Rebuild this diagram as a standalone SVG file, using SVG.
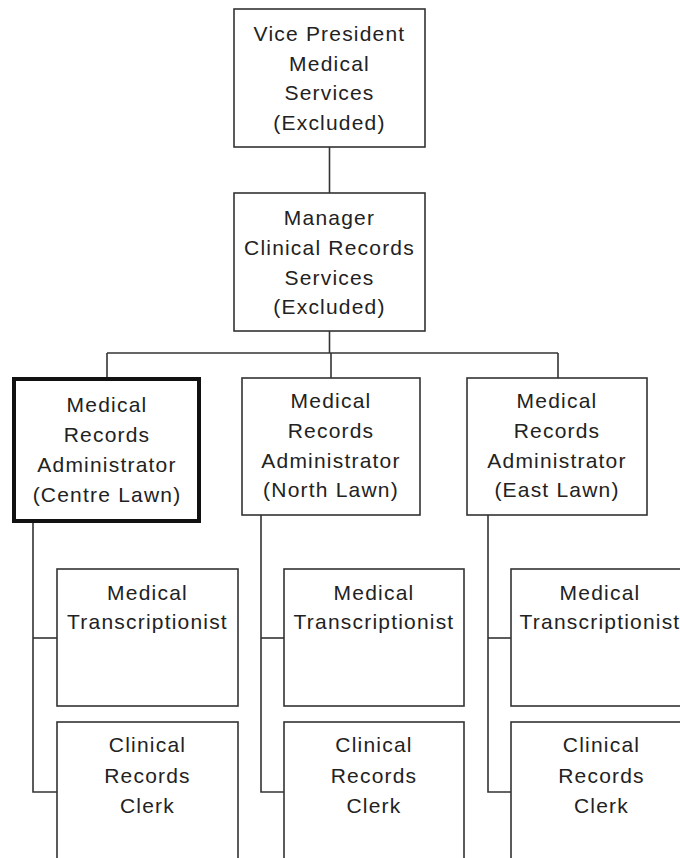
<svg xmlns="http://www.w3.org/2000/svg" width="680" height="858" viewBox="0 0 680 858">
<style>
.box{fill:#fff;stroke:#333;stroke-width:1.6}
.thick{fill:#fff;stroke:#111;stroke-width:4}
.ln{stroke:#333;stroke-width:1.6;fill:none}
text{font-family:"Liberation Sans",Arial,sans-serif;font-size:21px;fill:#222;text-anchor:middle;letter-spacing:1.2px}
</style>
<rect width="680" height="858" fill="#fff"/>
<g id="connectors">
<line class="ln" x1="329.5" y1="147" x2="329.5" y2="193"/>
<line class="ln" x1="329.5" y1="331" x2="329.5" y2="353"/>
<line class="ln" x1="107" y1="353" x2="558" y2="353"/>
<line class="ln" x1="107" y1="353" x2="107" y2="377"/>
<line class="ln" x1="331" y1="353" x2="331" y2="378"/>
<line class="ln" x1="558" y1="353" x2="558" y2="378"/>
<polyline class="ln" points="33,523 33,792 57,792"/>
<line class="ln" x1="33" y1="638" x2="57" y2="638"/>
<polyline class="ln" points="261,515 261,792 284,792"/>
<line class="ln" x1="261" y1="638" x2="284" y2="638"/>
<polyline class="ln" points="488,515 488,792 511,792"/>
<line class="ln" x1="488" y1="638" x2="511" y2="638"/>
</g>
<g id="vp">
<rect class="box" x="234" y="9" width="191" height="138"/>
<text x="329.5" y="41">Vice President</text>
<text x="329.5" y="71">Medical</text>
<text x="329.5" y="100">Services</text>
<text x="329.5" y="130">(Excluded)</text>
</g>
<g id="manager">
<rect class="box" x="234" y="193" width="191" height="138"/>
<text x="329.5" y="225">Manager</text>
<text x="329.5" y="255">Clinical Records</text>
<text x="329.5" y="285">Services</text>
<text x="329.5" y="314">(Excluded)</text>
</g>
<g id="admin-centre">
<rect class="thick" x="14" y="379" width="185" height="142"/>
<text x="107" y="412">Medical</text>
<text x="107" y="442">Records</text>
<text x="107" y="472">Administrator</text>
<text x="107" y="502">(Centre Lawn)</text>
</g>
<g id="admin-north">
<rect class="box" x="242" y="378" width="178" height="137"/>
<text x="331" y="408">Medical</text>
<text x="331" y="438">Records</text>
<text x="331" y="468">Administrator</text>
<text x="331" y="497">(North Lawn)</text>
</g>
<g id="admin-east">
<rect class="box" x="467" y="378" width="180" height="137"/>
<text x="557" y="408">Medical</text>
<text x="557" y="438">Records</text>
<text x="557" y="468">Administrator</text>
<text x="557" y="497">(East Lawn)</text>
</g>
<g id="mt-centre">
<rect class="box" x="57" y="569" width="181" height="137"/>
<text x="147.5" y="600">Medical</text>
<text x="147.5" y="629">Transcriptionist</text>
</g>
<g id="mt-north">
<rect class="box" x="284" y="569" width="180" height="137"/>
<text x="374" y="600">Medical</text>
<text x="374" y="629">Transcriptionist</text>
</g>
<g id="mt-east">
<rect class="box" x="511" y="569" width="181" height="137"/>
<text x="600" y="600">Medical</text>
<text x="600" y="629">Transcriptionist</text>
</g>
<g id="clerk-centre">
<rect class="box" x="57" y="722" width="181" height="160"/>
<text x="147.5" y="752">Clinical</text>
<text x="147.5" y="783">Records</text>
<text x="147.5" y="813">Clerk</text>
</g>
<g id="clerk-north">
<rect class="box" x="284" y="722" width="180" height="160"/>
<text x="374" y="752">Clinical</text>
<text x="374" y="783">Records</text>
<text x="374" y="813">Clerk</text>
</g>
<g id="clerk-east">
<rect class="box" x="511" y="722" width="181" height="160"/>
<text x="601.5" y="752">Clinical</text>
<text x="601.5" y="783">Records</text>
<text x="601.5" y="813">Clerk</text>
</g>
</svg>
